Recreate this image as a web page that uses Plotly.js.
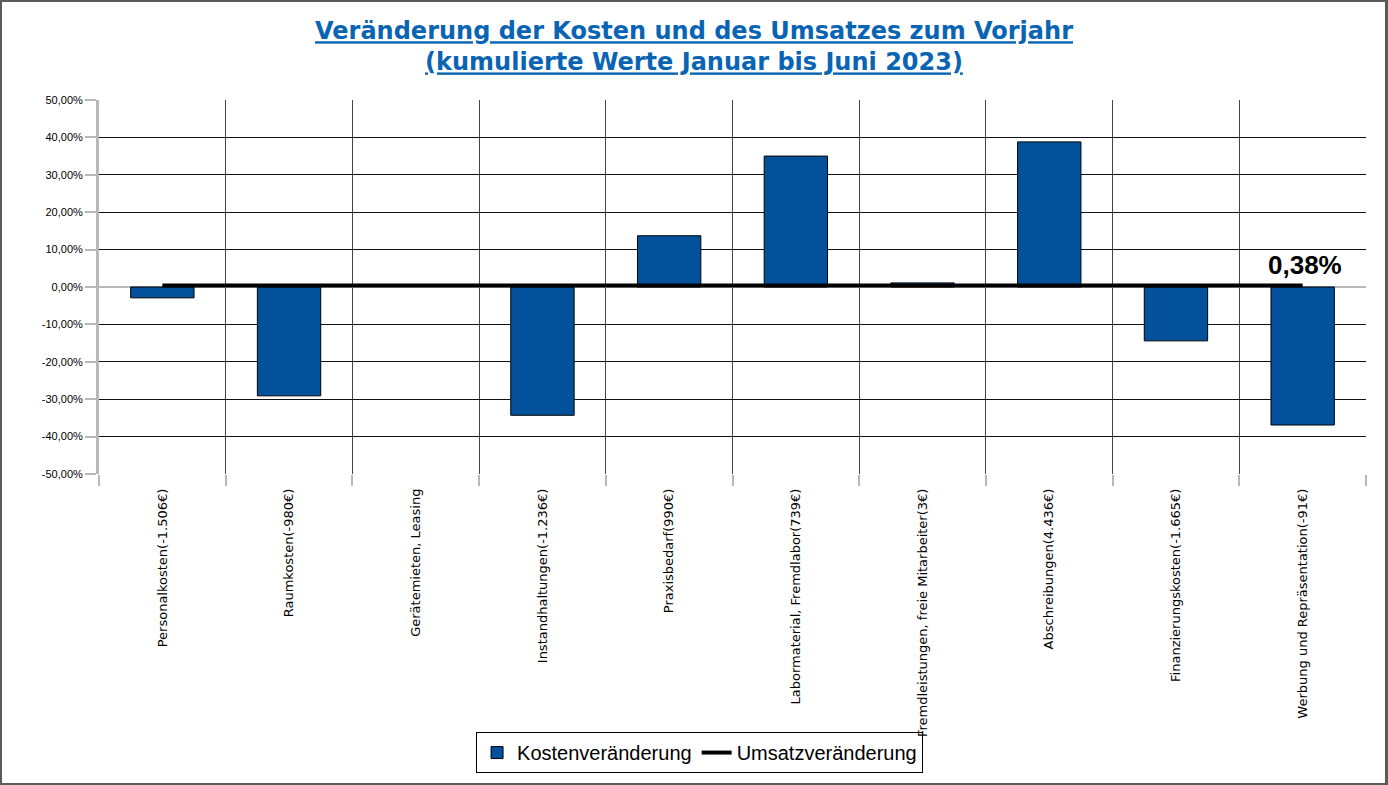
<!DOCTYPE html>
<html>
<head>
<meta charset="utf-8">
<script src="https://cdn.plot.ly/plotly-3.0.1.min.js"></script>
<style>
html,body{margin:0;padding:0;background:#fff;}
#chart{width:1388px;height:785px;}
#frame{position:absolute;left:0;top:0;width:1388px;height:785px;box-sizing:border-box;border:2px solid #5a5a5a;border-right-width:3px;pointer-events:none;}
</style>
</head>
<body>
<div id="chart"></div>
<div id="frame"></div>
<script>
const categories = [
  "Personalkosten(-1.506€)",
  "Raumkosten(-980€)",
  "Gerätemieten, Leasing",
  "Instandhaltungen(-1.236€)",
  "Praxisbedarf(990€)",
  "Labormaterial, Fremdlabor(739€)",
  "Fremdleistungen, freie Mitarbeiter(3€)",
  "Abschreibungen(4.436€)",
  "Finanzierungskosten(-1.665€)",
  "Werbung und Repräsentation(-91€)"
];
const kostenveraenderung = [-2.9, -29.1, null, -34.3, 13.7, 35.0, 1.1, 38.8, -14.4, -36.9];
const umsatzveraenderung = [0.38, 0.38, 0.38, 0.38, 0.38, 0.38, 0.38, 0.38, 0.38, 0.38];
const yTickValues = [-50, -40, -30, -20, -10, 0, 10, 20, 30, 40, 50];

const fmtPct = v => v.toFixed(2).replace('.', ',') + '%';
const yTickText = yTickValues.map(fmtPct);
const lastIdx = categories.length - 1;
const umsatzLabel = fmtPct(umsatzveraenderung[lastIdx]);

const traces = [
  {
    type: 'bar',
    name: 'Kostenveränderung',
    x: categories,
    y: kostenveraenderung,
    width: 0.5,
    marker: {color: '#03519b', line: {color: '#000', width: 1}},
    hoverinfo: 'x+y'
  },
  {
    type: 'scatter',
    mode: 'lines',
    name: 'Umsatzveränderung',
    x: categories,
    y: umsatzveraenderung,
    line: {color: '#000', width: 4}
  }
];

const layout = {
  width: 1388,
  height: 785,
  margin: {l: 99, r: 22, t: 100, b: 311},
  paper_bgcolor: '#fff',
  plot_bgcolor: '#fff',
  separators: ',.',
  font: {family: 'Liberation Sans, Arial, sans-serif', color: '#000'},
  title: {
    text: '<span style="text-decoration:underline">Veränderung der Kosten und des Umsatzes zum Vorjahr</span><br><span style="text-decoration:underline">(kumulierte Werte Januar bis Juni 2023)</span>',
    font: {family: 'DejaVu Sans, sans-serif', size: 24, color: '#0a64b4', weight: 'bold'},
    x: 0.5, xanchor: 'center', xref: 'container',
    y: 0.95, yanchor: 'top', yref: 'container'
  },
  showlegend: true,
  legend: {
    orientation: 'h',
    x: 0.474, xanchor: 'center',
    y: -0.69, yanchor: 'top',
    bgcolor: 'rgba(255,255,255,0)',
    bordercolor: '#000', borderwidth: 1,
    font: {size: 20, family: 'Liberation Sans, Arial, sans-serif'},
    traceorder: 'normal',
    itemwidth: 30
  },
  xaxis: {
    type: 'category',
    tickson: 'boundaries',
    showgrid: true,
    gridcolor: '#444',
    gridwidth: 1,
    ticks: 'outside',
    ticklen: 11,
    tickwidth: 2,
    tickcolor: '#b8b8b8',
    tickangle: -90,
    ticklabelstandoff: 11,
    tickfont: {size: 13, family: 'DejaVu Sans, sans-serif'},
    showline: false,
    zeroline: false
  },
  yaxis: {
    range: [-50, 50],
    tickmode: 'array',
    tickvals: yTickValues,
    ticktext: yTickText,
    showgrid: true,
    gridcolor: '#111',
    gridwidth: 1,
    ticks: 'outside',
    ticklen: 11,
    tickwidth: 2,
    tickcolor: '#b8b8b8',
    tickfont: {size: 11, family: 'Liberation Sans, Arial, sans-serif'},
    showline: true,
    linecolor: '#b8b8b8',
    linewidth: 3,
    zeroline: true,
    zerolinecolor: '#b8b8b8',
    zerolinewidth: 2
  },
  annotations: [
    {
      x: categories[lastIdx],
      y: umsatzveraenderung[lastIdx],
      xref: 'x', yref: 'y',
      text: '<b>' + umsatzLabel + '</b>',
      showarrow: false,
      xanchor: 'center',
      yanchor: 'bottom',
      xshift: 2,
      yshift: 4,
      font: {size: 26, family: 'Liberation Sans, Arial, sans-serif', color: '#000'}
    }
  ]
};

Plotly.newPlot('chart', traces, layout, {displayModeBar: false, responsive: false});
</script>
</body>
</html>
